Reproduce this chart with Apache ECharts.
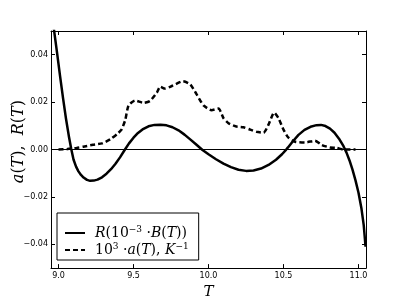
<!DOCTYPE html>
<html>
<head>
<meta charset="utf-8">
<script src="https://cdn.jsdelivr.net/npm/echarts@6/dist/echarts.min.js"></script>
<style>
  html, body { margin: 0; padding: 0; background: #fff; }
  #chart { width: 407px; height: 305px; }
</style>
</head>
<body>
<div id="chart"></div>
<script>
// T values and curves
var rCurve = [
  [8.962, 0.0545], [8.970, 0.0505], [8.990, 0.0410], [9.010, 0.0312], [9.030, 0.0218],
  [9.050, 0.0130], [9.070, 0.0053], [9.085, 0.0002], [9.100, -0.0042], [9.117, -0.0072],
  [9.133, -0.0092], [9.150, -0.0107], [9.167, -0.0118], [9.190, -0.0128], [9.211, -0.0132],
  [9.235, -0.0131], [9.260, -0.0127], [9.290, -0.0117], [9.320, -0.0102], [9.350, -0.0083],
  [9.380, -0.0060], [9.410, -0.0033], [9.440, -0.0003], [9.470, 0.0026], [9.500, 0.0050],
  [9.530, 0.0070], [9.560, 0.0085], [9.600, 0.0098], [9.640, 0.0104], [9.680, 0.0105],
  [9.720, 0.0102], [9.760, 0.0094], [9.800, 0.0081], [9.840, 0.0063], [9.880, 0.0042],
  [9.920, 0.0020], [9.960, -0.0002], [10.000, -0.0020], [10.050, -0.0041], [10.100, -0.0059],
  [10.150, -0.0074], [10.200, -0.0085], [10.250, -0.0090], [10.300, -0.0088], [10.350, -0.0080],
  [10.400, -0.0065], [10.450, -0.0043], [10.490, -0.0020], [10.518, 0.0000], [10.530, 0.0009],
  [10.560, 0.0033], [10.600, 0.0062], [10.640, 0.0083], [10.680, 0.0096], [10.720, 0.0103],
  [10.750, 0.0104], [10.780, 0.0099], [10.810, 0.0088], [10.840, 0.0071], [10.870, 0.0046],
  [10.900, 0.0014], [10.920, -0.0013], [10.940, -0.0046], [10.960, -0.0085], [10.980, -0.0130],
  [11.000, -0.0182], [11.020, -0.0250], [11.035, -0.0320], [11.047, -0.0410]
];
var aCurve = [
  [9.000, 0.0000], [9.060, 0.0002], [9.120, 0.0007], [9.165, 0.0012], [9.230, 0.0020],
  [9.290, 0.0026], [9.345, 0.0043], [9.390, 0.0065], [9.420, 0.0084], [9.445, 0.0125],
  [9.467, 0.0186], [9.510, 0.0207], [9.567, 0.0197], [9.610, 0.0205], [9.656, 0.0240],
  [9.678, 0.0265], [9.710, 0.0257], [9.756, 0.0268], [9.830, 0.0288], [9.878, 0.0275],
  [9.920, 0.0234], [9.967, 0.0186], [10.020, 0.0166], [10.067, 0.0173], [10.100, 0.0132],
  [10.133, 0.0111], [10.180, 0.0098], [10.233, 0.0094], [10.278, 0.0084], [10.320, 0.0075],
  [10.367, 0.0071], [10.400, 0.0105], [10.438, 0.0156], [10.467, 0.0132], [10.500, 0.0084],
  [10.533, 0.0050], [10.578, 0.0033], [10.645, 0.0030], [10.710, 0.0037], [10.756, 0.0019],
  [10.810, 0.0009], [10.856, 0.0007], [10.900, 0.0000], [10.980, 0.0000]
];
var xTicks = [9.0, 9.5, 10.0, 10.5, 11.0];
var yTicks = [-0.04, -0.02, 0.0, 0.02, 0.04];

(function () {
  var myChart = echarts.init(document.getElementById("chart"));
  var serif = "DejaVu Serif";
  var rich = {
    i: { fontFamily: serif, fontStyle: "italic", fontSize: 14, color: "#000", lineHeight: 16 },
    n: { fontFamily: serif, fontSize: 14, color: "#000", lineHeight: 16 },
    s: { fontFamily: serif, fontSize: 9, color: "#000", verticalAlign: "top", lineHeight: 16 }
  };

  function axisX(pos, labels) {
    return {
      type: "value",
      position: pos,
      min: 8.95,
      max: 11.05,
      axisLine: { show: true, onZero: false, lineStyle: { color: "#000", width: 1 } },
      axisTick: { show: true, inside: true, length: 4, customValues: xTicks, lineStyle: { color: "#000" } },
      axisLabel: {
        show: labels,
        margin: 4,
        customValues: xTicks,
        formatter: function (v) { return v.toFixed(1); },
        fontFamily: "DejaVu Sans", fontSize: 8, color: "#000"
      },
      splitLine: { show: false }
    };
  }
  function axisY(pos, labels) {
    return {
      type: "value",
      position: pos,
      min: -0.05,
      max: 0.05,
      axisLine: { show: true, onZero: false, lineStyle: { color: "#000", width: 1 } },
      axisTick: { show: true, inside: true, length: 4, customValues: yTicks, lineStyle: { color: "#000" } },
      axisLabel: {
        show: labels,
        margin: 3,
        customValues: yTicks,
        formatter: function (v) { return v.toFixed(2).replace("-", "\u2212").replace("\u22120.00", "0.00"); },
        fontFamily: "DejaVu Sans", fontSize: 8, color: "#000"
      },
      splitLine: { show: false }
    };
  }

  var xa = axisX("bottom", true);
  xa.name = "T";
  xa.nameLocation = "middle";
  xa.nameGap = 12;
  xa.nameTextStyle = { fontFamily: serif, fontStyle: "italic", fontSize: 15, color: "#000" };

  option = {
    animation: false,
    backgroundColor: "#fff",
    grid: { left: 51, top: 31, right: 41, bottom: 31, containLabel: false },
    xAxis: [xa, axisX("top", false)],
    yAxis: [axisY("left", true), axisY("right", false)],
    legend: {
      orient: "vertical",
      left: 57,
      top: 213,
      padding: [12, 10, 3, 7],
      itemGap: 2,
      itemWidth: 20,
      itemHeight: 14,
      borderColor: "#000",
      borderWidth: 1,
      backgroundColor: "#fff",
      itemStyle: { opacity: 0, color: "rgba(0,0,0,0)", borderWidth: 0 },
      data: ["R", "a"],
      formatter: function (name) {
        if (name === "R") {
          return "{i|R}{n|(10}{s|\u22123}{n| \u00b7}{i|B}{n|(}{i|T}{n|))}";
        }
        return "{n|10}{s|3}{n| \u00b7}{i|a}{n|(}{i|T}{n|), }{i|K}{s|\u22121}";
      },
      textStyle: { rich: rich, padding: [0, 0, 0, 5] }
    },
    graphic: [
      {
        type: "text",
        left: 11,
        top: 100,
        rotation: Math.PI / 2,
        style: {
          text: "{i|a}{n|(}{i|T}{n|),  }{i|R}{n|(}{i|T}{n|)}",
          rich: {
            i: { fontFamily: serif, fontStyle: "italic", fontSize: 16, fill: "#000" },
            n: { fontFamily: serif, fontSize: 16, fill: "#000" }
          }
        }
      }
    ],
    series: [
      {
        name: "R",
        type: "line",
        data: rCurve,
        smooth: false,
        symbol: "none",
        clip: true,
        lineStyle: { color: "#000", width: 2.5, join: "round" },
        itemStyle: { color: "#000" },
        markLine: {
          silent: true,
          symbol: "none",
          label: { show: false },
          lineStyle: { color: "#000", width: 1, type: "solid" },
          data: [{ yAxis: 0 }]
        },
        z: 3
      },
      {
        name: "a",
        type: "line",
        data: aCurve,
        smooth: 0.2,
        symbol: "none",
        clip: true,
        lineStyle: { color: "#000", width: 2.5, type: [5, 3] },
        itemStyle: { color: "#000" },
        z: 3
      }
    ]
  };
  myChart.setOption(option);
  window.addEventListener("resize", function () {
    myChart.resize();
  });
})();
</script>
</body>
</html>
